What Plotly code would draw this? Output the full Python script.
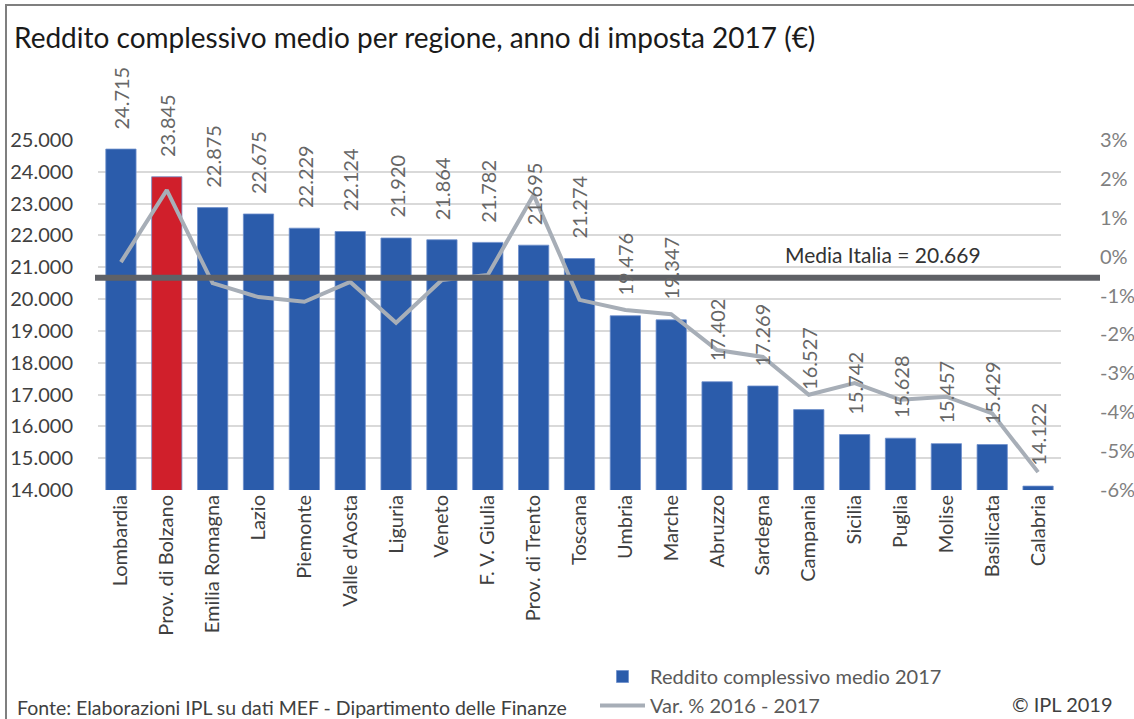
import plotly.graph_objects as go

categories = ["Lombardia", "Prov. di Bolzano", "Emilia Romagna", "Lazio", "Piemonte",
              "Valle d'Aosta", "Liguria", "Veneto", "F. V. Giulia", "Prov. di Trento",
              "Toscana", "Umbria", "Marche", "Abruzzo", "Sardegna", "Campania",
              "Sicilia", "Puglia", "Molise", "Basilicata", "Calabria"]
reddito_2017 = [24715, 23845, 22875, 22675, 22229, 22124, 21920, 21864, 21782, 21695,
                21274, 19476, 19347, 17402, 17269, 16527, 15742, 15628, 15457, 15429, 14122]
var_pct = [-0.14, 1.71, -0.68, -1.04, -1.16, -0.65, -1.70, -0.60, -0.47, 1.59,
           -1.11, -1.37, -1.48, -2.40, -2.58, -3.55, -3.25, -3.68, -3.60, -4.03, -5.54]
media_italia = 20669
left_ticks = list(range(14000, 25001, 1000))
right_ticks = list(range(-6, 4))
right_ticktext = [f"{v}%" for v in right_ticks]

FONT = "Lato"
BLUE = "#2B5CAB"
RED = "#D01F2B"
LINE = "#A7AEB7"

# plot area in pixels
W, H = 1134, 719
L, R, T, B = 98, 1061, 140, 490

def px(xp):
    return (xp - L) / (R - L)

def py(yp):
    return (B - yp) / (B - T)

bar_colors = [RED if "Bolzano" in c else BLUE for c in categories]

fig = go.Figure()
fig.add_trace(go.Bar(
    x=categories, y=reddito_2017, name="Reddito complessivo medio 2017",
    marker=dict(color=bar_colors, line=dict(color="#6F8FCB", width=0.8)),
    yaxis="y",
))
fig.add_trace(go.Scatter(
    x=categories, y=var_pct, name="Var. % 2016 - 2017", mode="lines",
    line=dict(color=LINE, width=4), yaxis="y2",
))

annotations = []
for c, v in zip(categories, reddito_2017):
    annotations.append(dict(
        x=c, y=v, xref="x", yref="y", text=f"{v:,}".replace(",", "."),
        textangle=-90, yanchor="bottom", xanchor="center", yshift=18,
        showarrow=False, font=dict(family=FONT, size=20, color="#666666"),
    ))

annotations += [
    dict(x=px(12), y=py(37), xref="paper", yref="paper", xanchor="left", yanchor="middle",
         text="Reddito complessivo medio per regione, anno di imposta 2017 (€)",
         showarrow=False, font=dict(family=FONT, size=28, color="#1a1a1a")),
    dict(x=px(883), y=media_italia, xref="paper", yref="y", xanchor="center", yanchor="middle",
         yshift=23, text="Media Italia = " + f"{media_italia:,}".replace(",", "."),
         showarrow=False, font=dict(family=FONT, size=21, color="#333333")),
    dict(x=px(15), y=py(707), xref="paper", yref="paper", xanchor="left", yanchor="middle",
         text="Fonte: Elaborazioni IPL su dati MEF - Dipartimento delle Finanze",
         showarrow=False, font=dict(family=FONT, size=19.5, color="#404040")),
    dict(x=px(1010), y=py(704), xref="paper", yref="paper", xanchor="left", yanchor="middle",
         text="© IPL 2019", showarrow=False, font=dict(family=FONT, size=20, color="#404040")),
]

shapes = [
    dict(type="line", xref="paper", yref="y", x0=px(95), x1=px(1100),
         y0=media_italia, y1=media_italia, line=dict(color="#5F6166", width=6), layer="above"),
    dict(type="rect", xref="paper", yref="paper", x0=px(6), x1=px(1145), y0=py(5), y1=py(730),
         line=dict(color="#7F7F7F", width=2), layer="below"),
]

fig.update_layout(
    width=W, height=H,
    margin=dict(l=L, r=W - R, t=T, b=H - B, autoexpand=False),
    paper_bgcolor="white", plot_bgcolor="white",
    separators=",.",
    font=dict(family=FONT, color="#404040"),
    bargap=0.34,
    showlegend=True,
    legend=dict(x=px(595), y=py(657), xanchor="left", yanchor="top",
                font=dict(family=FONT, size=20, color="#595959"),
                tracegroupgap=0, itemwidth=45, bgcolor="rgba(0,0,0,0)"),
    xaxis=dict(tickangle=-90, tickfont=dict(family=FONT, size=20, color="#404040"),
               showgrid=False, showline=False, ticks=""),
    yaxis=dict(range=[14000, 25000], tickvals=left_ticks, tickformat=",d",
               tickfont=dict(family=FONT, size=20, color="#404040"),
               showgrid=True, gridcolor="#D9D9D9", gridwidth=1.5, zeroline=False,
               ticklabelstandoff=24),
    yaxis2=dict(range=[-6, 3], tickvals=right_ticks, ticktext=right_ticktext,
                overlaying="y", side="right", showgrid=False, zeroline=False,
                tickfont=dict(family=FONT, size=20, color="#808080"),
                ticklabelstandoff=38),
    annotations=annotations,
    shapes=shapes,
)

fig.write_html("out.html", config={"displayModeBar": False},
               post_script="document.body.style.margin='0';document.body.style.overflow='hidden';")
